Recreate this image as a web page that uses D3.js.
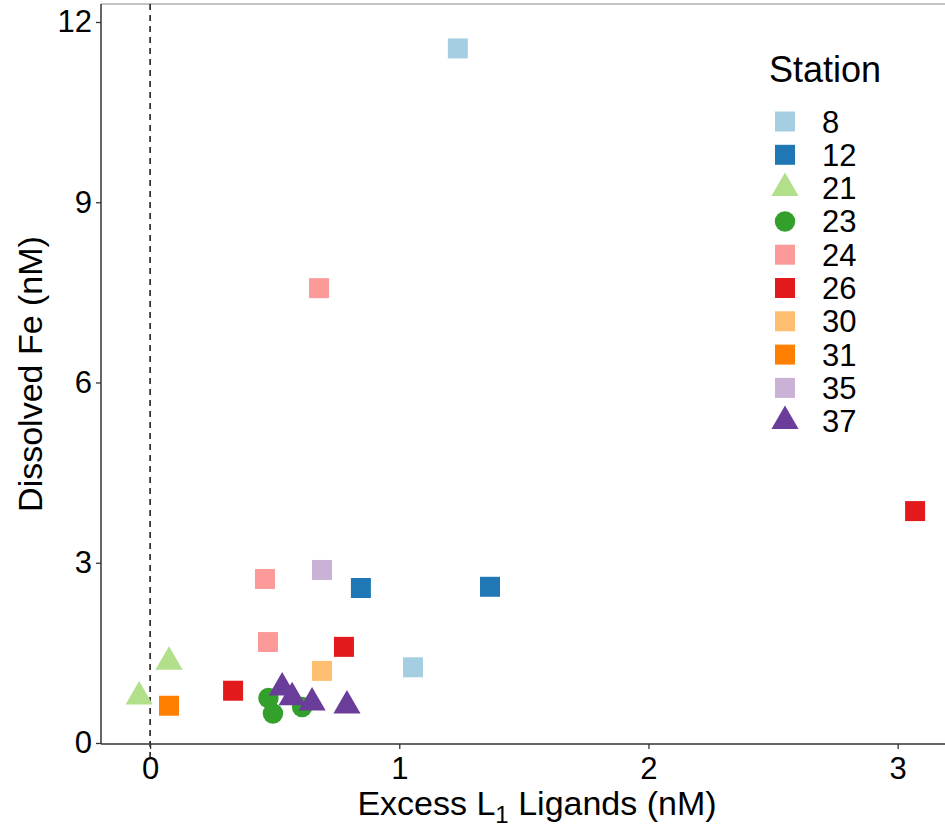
<!DOCTYPE html>
<html>
<head>
<meta charset="utf-8">
<script src="https://cdn.jsdelivr.net/npm/d3@7"></script>
<style>
  body { margin: 0; background: #fff; }
  text { font-family: "Liberation Sans", Arial, sans-serif; }
</style>
</head>
<body>
<div class="chart"></div>
<script>
// station order and look
const stations = ['8', '12', '21', '23', '24', '26', '30', '31', '35', '37'];
const colors = ['#A6CEE3', '#1F78B4', '#B2DF8A', '#33A02C', '#FB9A99', '#E31A1C', '#FDBF6F', '#FF7F00', '#CAB2D6', '#6A3D9A'];
const shapes = ['square', 'square', 'triangle', 'circle', 'square', 'square', 'square', 'square', 'square', 'triangle'];

// measurements: station, excess L1 (nM), dissolved Fe (nM)
const pointStation = ['8', '8', '12', '12', '21', '21', '23', '23', '23', '24', '24', '24', '26', '26', '26', '30', '31', '35', '37', '37', '37', '37'];
const excessL1 = [1.235, 1.055, 0.846, 1.364, -0.044, 0.076, 0.475, 0.493, 0.61, 0.678, 0.461, 0.473, 3.07, 0.333, 0.778, 0.69, 0.076, 0.69, 0.53, 0.57, 0.65, 0.79];
const dissolvedFe = [11.56, 1.26, 2.58, 2.60, 0.77, 1.35, 0.75, 0.49, 0.60, 7.57, 2.73, 1.68, 3.86, 0.87, 1.60, 1.20, 0.62, 2.88, 0.92, 0.76, 0.67, 0.62];

const xTicks = [0, 1, 2, 3];
const yTicks = [0, 3, 6, 9, 12];

const data = pointStation.map((s, i) => ({station: s, x: excessL1[i], y: dissolvedFe[i]}));

const width = 945, height = 830;
const panel = {left: 101, right: 945, top: 4, bottom: 744};

const svg = d3.select('.chart').append('svg')
    .attr('width', width)
    .attr('height', height);

const xScale = d3.scaleLinear()
    .domain([-0.197, 3.19])
    .range([panel.left, panel.right]);

const yScale = d3.scaleLinear()
    .domain([0, 12])
    .range([743, 22]);

const colorScale = d3.scaleOrdinal().domain(stations).range(colors);
const shapeScale = d3.scaleOrdinal().domain(stations).range(shapes);

const symbolFor = {
    square: d3.symbol().type(d3.symbolSquare).size(400),
    circle: d3.symbol().type(d3.symbolCircle).size(330),
    triangle: d3.symbol().type(d3.symbolTriangle).size(320)
};

// top border
svg.append('line')
    .attr('x1', panel.left).attr('x2', panel.right)
    .attr('y1', panel.top).attr('y2', panel.top)
    .attr('stroke', '#b0b0b0')
    .attr('stroke-width', 1.5);

// dashed zero line
svg.append('line')
    .attr('x1', xScale(0)).attr('x2', xScale(0))
    .attr('y1', panel.top).attr('y2', panel.bottom + 13)
    .attr('stroke', 'black')
    .attr('stroke-width', 1.4)
    .attr('stroke-dasharray', '6,5');

// points
svg.append('g')
    .selectAll('path')
    .data(data)
    .enter()
    .append('path')
    .attr('transform', d => `translate(${xScale(d.x)},${yScale(d.y)})`)
    .attr('d', d => symbolFor[shapeScale(d.station)]())
    .attr('fill', d => colorScale(d.station));

// axes
const xAxis = d3.axisBottom(xScale).tickValues(xTicks).tickSize(5).tickPadding(8).tickFormat(d3.format('d'));
const yAxis = d3.axisLeft(yScale).tickValues(yTicks).tickSize(5).tickPadding(4).tickFormat(d3.format('d'));

const gx = svg.append('g')
    .attr('transform', `translate(0, ${panel.bottom})`)
    .call(xAxis);
gx.select('.domain').attr('d', `M${panel.left},0H${panel.right}`);

const gy = svg.append('g')
    .attr('transform', `translate(${panel.left}, 0)`)
    .call(yAxis);
gy.select('.domain').attr('d', `M0,${panel.top}V${panel.bottom}`);

[gx, gy].forEach(g => {
    g.select('.domain').attr('stroke', '#333').attr('stroke-width', 1.5);
    g.selectAll('.tick line').attr('stroke', '#333').attr('stroke-width', 1.3);
    g.selectAll('.tick text')
        .attr('fill', 'black')
        .style('font-size', '31px')
        .style('font-family', '"Liberation Sans", Arial, sans-serif');
});

// axis titles
const xTitle = svg.append('text')
    .attr('x', 537)
    .attr('y', 815)
    .attr('text-anchor', 'middle')
    .style('font-size', '34px');
xTitle.append('tspan').text('Excess L');
xTitle.append('tspan').attr('dy', 8).style('font-size', '24px').text('1');
xTitle.append('tspan').attr('dy', -8).text(' Ligands (nM)');

svg.append('text')
    .attr('transform', `translate(42, ${(panel.top + panel.bottom) / 2}) rotate(-90)`)
    .attr('text-anchor', 'middle')
    .style('font-size', '34px')
    .text('Dissolved Fe (nM)');

// legend
const legend = svg.append('g');
legend.append('text')
    .attr('x', 769)
    .attr('y', 82)
    .style('font-size', '36px')
    .text('Station');

const rows = legend.selectAll('g.row')
    .data(stations)
    .enter()
    .append('g')
    .attr('class', 'row')
    .attr('transform', (d, i) => `translate(785, ${121.5 + i * 33.3})`);

rows.append('path')
    .attr('d', d => symbolFor[shapeScale(d)]())
    .attr('fill', d => colorScale(d));

rows.append('text')
    .attr('x', 37)
    .attr('y', 11)
    .style('font-size', '31px')
    .text(d => d);
</script>
</body>
</html>
